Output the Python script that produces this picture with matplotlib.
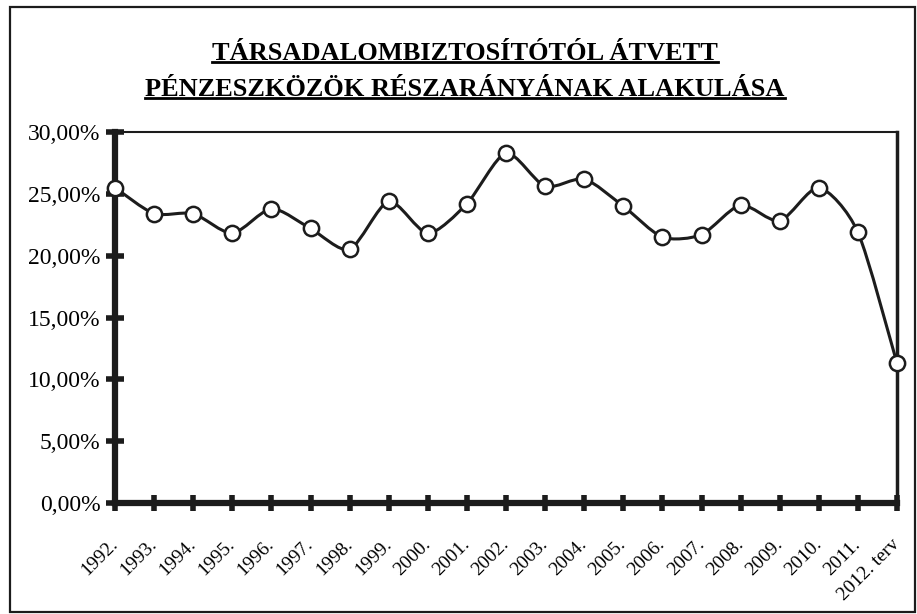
import numpy as np
import matplotlib
matplotlib.use('Agg')
import matplotlib.pyplot as plt
from matplotlib.path import Path
from matplotlib.patches import PathPatch, Rectangle
from matplotlib.lines import Line2D

# adatok
years = ['1992.', '1993.', '1994.', '1995.', '1996.', '1997.', '1998.', '1999.',
         '2000.', '2001.', '2002.', '2003.', '2004.', '2005.', '2006.', '2007.',
         '2008.', '2009.', '2010.', '2011.', '2012. terv']
values = [25.5, 23.4, 23.4, 21.8, 23.8, 22.2, 20.5, 24.4, 21.8, 24.2, 28.3,
          25.6, 26.2, 24.0, 21.5, 21.7, 24.1, 22.8, 25.5, 21.9, 11.3]
yticks = [0, 5, 10, 15, 20, 25, 30]
title_lines = ['TÁRSADALOMBIZTOSÍTÓTÓL ÁTVETT',
               'PÉNZESZKÖZÖK RÉSZARÁNYÁNAK ALAKULÁSA']

ink = '#1c1c1c'
plt.rcParams['font.family'] = ['Liberation Serif', 'DejaVu Serif']

fig = plt.figure(figsize=(9.17, 6.14), dpi=100)
ax = fig.add_axes([115/917, 1-503/614, (897-115)/917, (503-132)/614])

x = np.arange(len(values), dtype=float)
y = np.array(values)

# simitott vonal (Catmull-Rom -> Bezier)
verts = [(x[0], y[0])]
codes = [Path.MOVETO]
n = len(x)
for i in range(n-1):
    p0 = np.array([x[max(i-1, 0)], y[max(i-1, 0)]])
    p1 = np.array([x[i], y[i]])
    p2 = np.array([x[i+1], y[i+1]])
    p3 = np.array([x[min(i+2, n-1)], y[min(i+2, n-1)]])
    c1 = p1 + (p2 - p0)/8
    c2 = p2 - (p3 - p1)/8
    verts += [tuple(c1), tuple(c2), tuple(p2)]
    codes += [Path.CURVE4]*3
ax.add_patch(PathPatch(Path(verts, codes), facecolor='none', edgecolor=ink,
                       lw=2.2, clip_on=False, zorder=4))
ax.plot(x, y, 'o', mfc='white', mec=ink, ms=11, mew=1.8, clip_on=False, zorder=5)

ax.set_xlim(0, 20)
ax.set_ylim(0, 30)
ax.set_yticks(yticks)
ax.set_yticklabels([f'{v:.2f}'.replace('.', ',') + '%' for v in yticks])
ax.set_xticks(x)
ax.set_xticklabels(years, rotation=45, ha='right', va='center',
                   rotation_mode='anchor')

ax.spines['left'].set_linewidth(4.5)
ax.spines['bottom'].set_linewidth(4.5)
ax.spines['right'].set_linewidth(2.5)
ax.spines['top'].set_linewidth(1.5)
for s in ax.spines.values():
    s.set_color(ink)

ax.tick_params(axis='y', direction='inout', length=13, width=4, color=ink,
               labelsize=17, pad=4, labelcolor='black')
ax.tick_params(axis='x', direction='inout', length=12, width=4, color=ink,
               labelsize=14, pad=22, labelcolor='black')

# cím aláhúzással
ty = [53, 89]
texts = []
for t, yy in zip(title_lines, ty):
    texts.append(fig.text(465/917, 1-yy/614, t, ha='center', va='center',
                          fontsize=19, fontweight='bold', color='black'))
fig.canvas.draw()
r = fig.canvas.get_renderer()
for t in texts:
    bb = t.get_window_extent(r).transformed(fig.transFigure.inverted())
    fig.lines.append(Line2D([bb.x0, bb.x1], [bb.y0 + 0.004, bb.y0 + 0.004],
                            transform=fig.transFigure, color='black', lw=2))

# keret
fig.patches.append(Rectangle((10/917, 1-612/614), 905/917, 605/614,
                             transform=fig.transFigure, fill=False,
                             ec=ink, lw=1.6))

fig.savefig('out.png', dpi=100, facecolor='white')
